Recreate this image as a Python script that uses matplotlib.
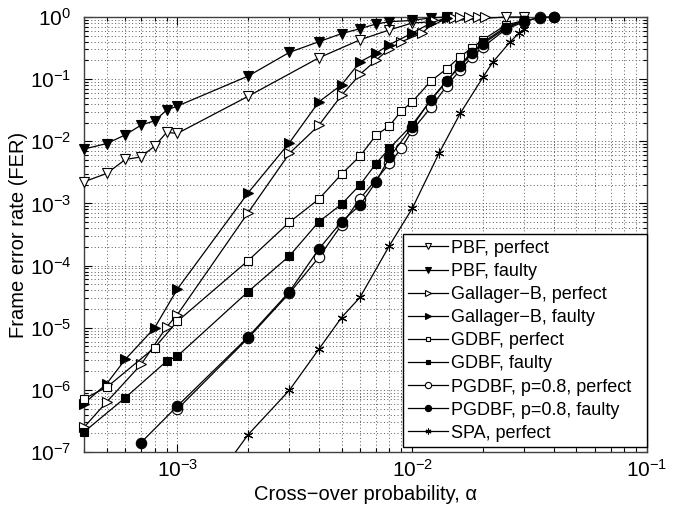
import matplotlib
matplotlib.use("Agg")
import matplotlib.pyplot as plt
from matplotlib.ticker import LogLocator, NullFormatter, FixedLocator, LogFormatterSciNotation

plt.rcParams['font.family'] = ['Liberation Sans', 'DejaVu Sans']
plt.rcParams['mathtext.fontset'] = 'custom'
plt.rcParams['mathtext.rm'] = 'Liberation Sans'
plt.rcParams['mathtext.it'] = 'Liberation Sans:italic'

# ---------------- data ----------------
pbf_perf_x = [4e-4, 5e-4, 6e-4, 7e-4, 8e-4, 9e-4, 1e-3, 2e-3, 4e-3, 6e-3, 8e-3, 1e-2, 0.025, 0.03]
pbf_perf_y = [2.23e-3, 3.04e-3, 5.1e-3, 5.6e-3, 8.4e-3, 1.39e-2, 1.34e-2, 5.3e-2, 0.22, 0.43, 0.62, 0.8, 1.0, 1.0]

pbf_faul_x = [4e-4, 5e-4, 6e-4, 7e-4, 8e-4, 9e-4, 1e-3, 2e-3, 3e-3, 4e-3, 5e-3, 6e-3, 7e-3, 8e-3, 1e-2, 0.012, 0.014]
pbf_faul_y = [7.5e-3, 9.2e-3, 1.27e-2, 1.82e-2, 2.14e-2, 3.18e-2, 3.69e-2, 0.112, 0.27, 0.40, 0.54, 0.65, 0.77, 0.84, 0.88, 0.97, 1.0]

galb_perf_x = [4e-4, 5e-4, 7e-4, 9e-4, 1e-3, 2e-3, 3e-3, 4e-3, 5e-3, 6e-3, 7e-3, 8e-3, 9e-3,
               0.011, 0.0125, 0.015, 0.016, 0.0175, 0.019, 0.0205]
galb_perf_y = [2.5e-7, 6.4e-7, 2.56e-6, 1.03e-5, 1.63e-5, 7.1e-4, 6.4e-3, 1.8e-2, 5.5e-2, 0.12, 0.2, 0.31, 0.4,
               0.55, 0.85, 0.97, 0.99, 1.0, 1.0, 1.0]

galb_faul_x = [4e-4, 5e-4, 6e-4, 8e-4, 1e-3, 2e-3, 3e-3, 4e-3, 5e-3, 6e-3, 7e-3, 8e-3, 1e-2, 0.012, 0.014]
galb_faul_y = [6.0e-7, 1.26e-6, 3.1e-6, 1.0e-5, 4.2e-5, 1.48e-3, 9.5e-3, 4.3e-2, 8.1e-2, 0.19, 0.26, 0.36, 0.55, 0.8, 0.97]

gdbf_perf_x = [4e-4, 5e-4, 8e-4, 1e-3, 2e-3, 3e-3, 4e-3, 5e-3, 6e-3, 7e-3, 8e-3, 9e-3, 1e-2,
               0.012, 0.014, 0.016, 0.018, 0.02, 0.025, 0.03]
gdbf_perf_y = [7.2e-7, 1.1e-6, 4.8e-6, 1.27e-5, 1.2e-4, 5.0e-4, 1.17e-3, 2.96e-3, 5.8e-3, 1.24e-2, 1.77e-2, 3.1e-2, 4.3e-2,
               9.3e-2, 0.146, 0.23, 0.32, 0.43, 0.74, 0.88]

gdbf_faul_x = [4e-4, 6e-4, 9e-4, 1e-3, 2e-3, 3e-3, 4e-3, 5e-3, 6e-3, 7e-3, 8e-3, 1e-2,
               0.012, 0.014, 0.016, 0.018, 0.02, 0.025, 0.03]
gdbf_faul_y = [2.1e-7, 7.5e-7, 2.9e-6, 3.5e-6, 3.8e-5, 1.43e-4, 5.06e-4, 9.7e-4, 2.0e-3, 4.35e-3, 7.7e-3, 1.85e-2,
               4.55e-2, 9.2e-2, 0.17, 0.27, 0.39, 0.69, 0.88]

pgdbf_perf_x = [1e-3, 2e-3, 3e-3, 4e-3, 5e-3, 6e-3, 8e-3, 9e-3, 1e-2, 0.012, 0.014, 0.016, 0.018, 0.02,
                0.025, 0.03, 0.035, 0.04]
pgdbf_perf_y = [4.9e-7, 6.8e-6, 3.6e-5, 1.35e-4, 4.5e-4, 1.2e-3, 4.4e-3, 7.7e-3, 1.5e-2, 3.5e-2, 7.7e-2, 0.14, 0.23, 0.33,
                0.63, 0.84, 0.99, 1.0]

pgdbf_faul_x = [7e-4, 1e-3, 2e-3, 3e-3, 4e-3, 5e-3, 6e-3, 7e-3, 8e-3, 1e-2, 0.012, 0.014, 0.016, 0.018, 0.02,
                0.025, 0.03, 0.035, 0.04]
pgdbf_faul_y = [1.42e-7, 5.5e-7, 7.1e-6, 3.8e-5, 1.84e-4, 5.1e-4, 9.4e-4, 2.2e-3, 5.5e-3, 1.72e-2, 4.7e-2, 9.3e-2, 0.16, 0.26, 0.37,
                0.66, 0.87, 0.98, 1.0]

spa_x = [1e-3, 2e-3, 3e-3, 4e-3, 5e-3, 6e-3, 8e-3, 1e-2, 0.013, 0.016, 0.02, 0.022, 0.026, 0.0285, 0.03]
spa_y = [5.2e-9, 1.9e-7, 9.9e-7, 4.5e-6, 1.46e-5, 3.1e-5, 2.1e-4, 8.3e-4, 6.4e-3, 2.8e-2, 0.107, 0.186, 0.39, 0.55, 0.64]

labels = ["PBF, perfect", "PBF, faulty", "Gallager\u2212B, perfect", "Gallager\u2212B, faulty",
          "GDBF, perfect", "GDBF, faulty", "PGDBF, p=0.8, perfect", "PGDBF, p=0.8, faulty", "SPA, perfect"]

x_major = [1e-3, 1e-2, 1e-1]
y_major = [1e-7, 1e-6, 1e-5, 1e-4, 1e-3, 1e-2, 1e-1, 1e0]

# ---------------- figure ----------------
fig = plt.figure(figsize=(6.84, 5.09), dpi=100)
ax = fig.add_axes([84/684, 1 - 452/509, (647-84)/684, (452-17)/509])
ax.set_xscale('log')
ax.set_yscale('log')
ax.set_xlim(4e-4, 1e-1)
ax.set_ylim(1e-7, 1.0)

lw = 0.9
asterisk = (6, 2, 0)
series = [
    (pbf_perf_x, pbf_perf_y, 'v', 'white', 7.5),
    (pbf_faul_x, pbf_faul_y, 'v', 'black', 7.5),
    (galb_perf_x, galb_perf_y, '>', 'white', 7.5),
    (galb_faul_x, galb_faul_y, '>', 'black', 7.5),
    (gdbf_perf_x, gdbf_perf_y, 's', 'white', 6),
    (gdbf_faul_x, gdbf_faul_y, 's', 'black', 6),
    (pgdbf_perf_x, pgdbf_perf_y, 'o', 'white', 7.5),
    (pgdbf_faul_x, pgdbf_faul_y, 'o', 'black', 7.5),
    (spa_x, spa_y, asterisk, 'black', 7),
]
for i, (xs, ys, m, fc, ms) in enumerate(series):
    ax.plot(xs, ys, color='black', lw=lw, marker=m, markerfacecolor=fc,
            markeredgecolor='black', markersize=ms, markeredgewidth=0.8,
            label=labels[i], clip_on=(i == 8), zorder=3 + i * 0.1)

ax.xaxis.set_major_locator(FixedLocator(x_major))
ax.yaxis.set_major_locator(FixedLocator(y_major))
ax.xaxis.set_major_formatter(LogFormatterSciNotation())
ax.yaxis.set_major_formatter(LogFormatterSciNotation())
ax.xaxis.set_minor_locator(LogLocator(base=10, subs=range(2, 10), numticks=20))
ax.yaxis.set_minor_locator(LogLocator(base=10, subs=range(2, 10), numticks=20))
ax.xaxis.set_minor_formatter(NullFormatter())
ax.yaxis.set_minor_formatter(NullFormatter())
ax.grid(True, which='both', linestyle=(0, (1, 2.5)), color='0.35', linewidth=0.7)
ax.set_axisbelow(True)

ax.tick_params(which='both', direction='in', top=True, right=True, labelsize=15, width=0.8)
ax.tick_params(which='major', length=6)
ax.tick_params(which='minor', length=3)
ax.tick_params(axis='y', which='major', pad=9)
ax.tick_params(axis='x', which='major', pad=5)
for s in ax.spines.values():
    s.set_linewidth(1.0)
    s.set_color('0.25')

ax.set_xlabel("Cross\u2212over probability, \u03b1", fontsize=14.5, labelpad=3)
ax.set_ylabel("Frame error rate (FER)", fontsize=14.5, labelpad=1)

leg = ax.legend(loc='lower left', bbox_to_anchor=(0.566, 0.011, 0.434, 0.48), mode='expand',
                borderaxespad=0, fontsize=13, frameon=True, fancybox=False, edgecolor='black',
                framealpha=1, markerscale=0.6, handlelength=2.2, handletextpad=0.2,
                labelspacing=0.34, borderpad=0.3)
leg.get_frame().set_linewidth(1.0)
leg.set_zorder(10)

fig.savefig("out.png", dpi=100)
